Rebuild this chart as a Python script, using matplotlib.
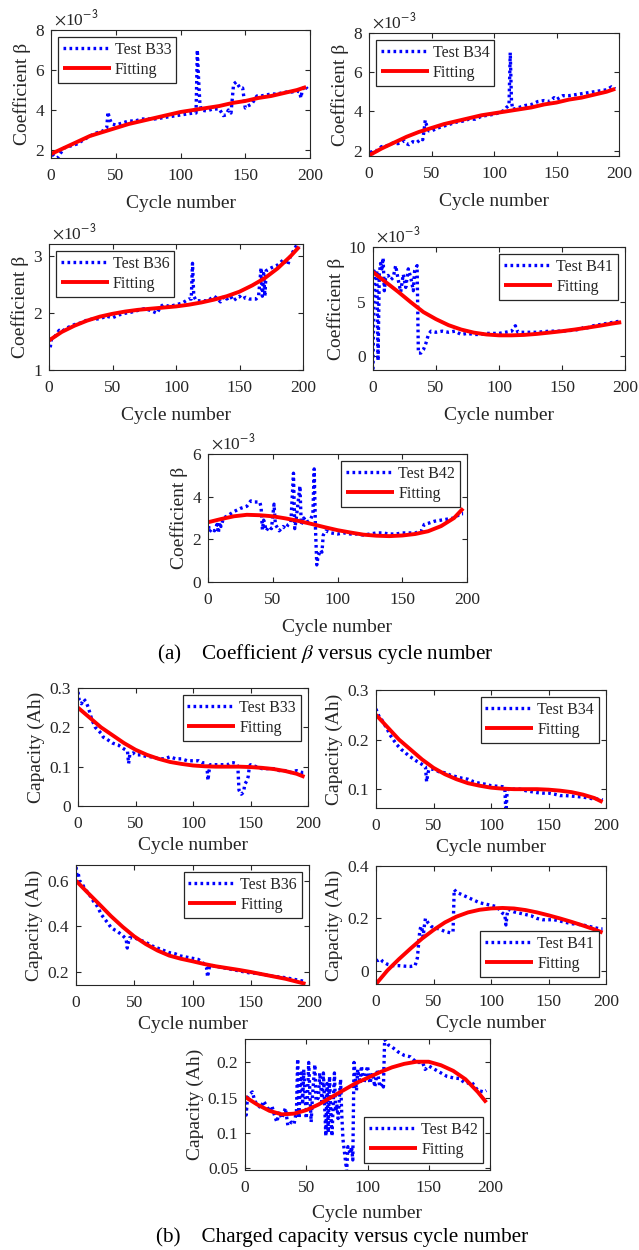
import matplotlib
matplotlib.use("Agg")
import matplotlib.pyplot as plt
from matplotlib.ticker import FuncFormatter

plt.rcParams['font.family'] = ['Liberation Serif', 'DejaVu Serif']
plt.rcParams['mathtext.fontset'] = 'stix'

# ---------------- data ----------------
fit_cycles = [0, 10, 20, 30, 40, 50, 60, 70, 80, 90, 100, 110, 120, 130, 140, 150, 160, 170, 180, 190, 197]

# Coefficient beta (values in units of 1e-3)
b33_beta = [(1,1.8),(3,1.65),(5,1.6),(7,1.8),(10,2.1),(15,2.2),(20,2.3),(25,2.5),(30,2.7),(35,2.85),(40,2.95),(43,3.1),(44,3.9),(45,3.6),(47,3.3),(50,3.25),(55,3.35),(60,3.45),(65,3.45),(70,3.55),(75,3.55),(80,3.55),(85,3.6),(90,3.65),(95,3.7),(100,3.75),(105,3.8),(110,3.85),(112,3.85),(113,7.0),(114,5.5),(115,4.3),(116,4.0),(120,3.95),(125,4.05),(130,4.05),(133,3.72),(135,3.75),(137,4.0),(139,3.85),(141,5.3),(143,5.4),(146,5.1),(148,5.1),(149,4.6),(150,4.1),(152,4.2),(155,4.3),(157,4.5),(159,4.7),(162,4.7),(166,4.75),(170,4.8),(174,4.8),(178,4.85),(182,4.9),(186,4.9),(190,4.95),(192,4.9),(193,4.6),(194,5.0),(196,5.2),(198,5.05)]
b33_beta_fit = [1.8,2.1,2.4,2.7,2.9,3.1,3.3,3.45,3.6,3.75,3.9,4.0,4.1,4.2,4.35,4.45,4.6,4.7,4.85,5.0,5.15]

b34_beta = [(1,2.0),(2,1.75),(4,2.0),(7,2.0),(10,2.2),(13,2.2),(16,2.3),(20,2.4),(23,2.35),(26,2.4),(28,2.5),(30,2.35),(32,2.3),(35,2.45),(38,2.4),(40,2.5),(42,2.6),(43,2.55),(44,3.0),(45,3.55),(46,3.3),(48,3.0),(50,3.0),(55,3.15),(60,3.25),(65,3.35),(70,3.45),(75,3.5),(80,3.6),(85,3.6),(90,3.75),(95,3.8),(100,3.85),(105,3.95),(108,4.05),(110,4.2),(112,4.3),(113,7.0),(114,4.5),(115,4.1),(120,4.2),(125,4.3),(130,4.35),(135,4.5),(140,4.55),(145,4.5),(148,4.7),(150,4.6),(155,4.8),(160,4.8),(165,4.85),(170,4.9),(175,4.95),(180,5.0),(185,5.05),(190,5.1),(194,5.25),(197,5.15)]
b34_beta_fit = [1.75,2.1,2.4,2.7,2.95,3.15,3.35,3.5,3.65,3.8,3.9,4.0,4.1,4.2,4.35,4.45,4.6,4.7,4.85,5.0,5.15]

b36_beta = [(1,1.4),(2,1.55),(5,1.6),(8,1.7),(10,1.68),(15,1.75),(20,1.8),(25,1.83),(30,1.88),(35,1.9),(40,1.9),(45,1.95),(50,1.92),(55,1.97),(60,2.0),(65,2.02),(70,2.05),(75,2.08),(80,2.05),(85,2.0),(88,2.12),(90,2.15),(95,2.12),(100,2.15),(105,2.18),(110,2.25),(112,2.25),(113,2.88),(114,2.3),(116,2.22),(120,2.22),(125,2.22),(130,2.3),(133,2.25),(135,2.2),(138,2.3),(140,2.25),(143,2.3),(145,2.22),(150,2.3),(152,2.25),(155,2.28),(158,2.25),(163,2.25),(165,2.3),(167,2.8),(168,2.3),(169,2.7),(170,2.3),(171,2.75),(175,2.8),(180,2.85),(185,2.95),(188,2.85),(190,3.0),(195,3.2),(197,3.15)]
b36_beta_fit = [1.52,1.67,1.78,1.87,1.94,1.99,2.03,2.06,2.08,2.1,2.12,2.15,2.19,2.24,2.3,2.38,2.49,2.62,2.79,3.0,3.17]

b41_beta = [(0,-1.2),(1,7.8),(2,7.5),(3,7.9),(4,-0.4),(5,7.5),(6,8.5),(7,8.0),(8,9.0),(9,6.0),(10,7.2),(12,7.4),(14,7.0),(16,7.2),(18,8.3),(20,7.0),(22,5.9),(24,7.5),(26,6.3),(28,8.0),(30,7.2),(32,6.0),(33,7.8),(35,8.3),(36,0.3),(38,0.3),(40,0.6),(42,1.2),(44,2.0),(46,2.3),(50,2.2),(55,2.3),(60,2.2),(65,2.3),(70,2.0),(75,2.1),(80,2.0),(85,2.0),(90,2.1),(95,2.1),(100,2.1),(105,2.2),(110,2.3),(113,2.8),(115,2.2),(120,2.2),(125,2.2),(130,2.2),(135,2.25),(140,2.3),(145,2.3),(150,2.3),(155,2.35),(160,2.4),(165,2.5),(168,2.7),(170,2.6),(175,2.8),(180,2.9),(185,3.0),(190,3.1),(195,3.2),(197,3.2)]
b41_beta_fit = [7.7,6.8,5.9,4.95,4.05,3.4,2.85,2.45,2.17,2.0,1.92,1.92,1.96,2.05,2.17,2.3,2.45,2.62,2.8,3.0,3.12]

b42_beta = [(0,2.9),(1,2.35),(3,2.5),(5,2.4),(7,2.7),(8,2.3),(9,2.8),(10,2.6),(12,3.0),(15,3.1),(20,3.3),(25,3.45),(30,3.55),(33,3.8),(36,3.75),(40,3.75),(41,3.5),(42,2.45),(43,2.9),(45,2.4),(47,2.6),(49,2.5),(51,3.65),(52,2.7),(55,2.4),(58,2.6),(60,2.5),(62,2.7),(64,2.8),(66,5.1),(67,2.5),(68,2.9),(71,4.5),(72,2.7),(74,3.0),(76,2.8),(79,2.9),(81,3.2),(82,5.3),(83,2.5),(84,0.8),(85,1.2),(87,1.5),(88,1.4),(89,2.2),(91,2.4),(95,2.3),(100,2.25),(105,2.3),(110,2.25),(115,2.25),(120,2.2),(125,2.25),(130,2.3),(135,2.3),(140,2.25),(145,2.25),(150,2.3),(155,2.3),(160,2.3),(165,2.4),(167,2.7),(170,2.75),(175,2.85),(180,2.9),(185,2.95),(190,3.0),(195,3.2),(197,3.2)]
b42_beta_fit = [2.8,2.95,3.08,3.15,3.13,3.08,2.98,2.86,2.72,2.57,2.43,2.32,2.22,2.17,2.15,2.18,2.25,2.38,2.62,3.0,3.45]

# Charged capacity (Ah)
b33_cap = [(0,0.29),(1,0.27),(2,0.265),(3,0.26),(5,0.272),(7,0.265),(9,0.25),(10,0.24),(12,0.22),(15,0.2),(20,0.185),(22,0.175),(25,0.17),(30,0.16),(35,0.155),(40,0.145),(43,0.14),(44,0.108),(45,0.13),(48,0.135),(50,0.13),(55,0.13),(60,0.125),(65,0.125),(70,0.12),(75,0.12),(80,0.125),(85,0.12),(90,0.12),(95,0.115),(100,0.115),(105,0.115),(108,0.11),(110,0.11),(112,0.105),(113,0.065),(114,0.09),(115,0.105),(120,0.105),(125,0.105),(130,0.105),(133,0.11),(135,0.11),(138,0.108),(139,0.1),(140,0.04),(142,0.03),(144,0.035),(145,0.055),(147,0.065),(148,0.075),(149,0.1),(150,0.105),(155,0.1),(160,0.095),(165,0.095),(170,0.095),(175,0.09),(180,0.09),(185,0.085),(190,0.09),(195,0.085),(197,0.085)]
b33_cap_fit = [0.25,0.225,0.2,0.18,0.16,0.143,0.13,0.12,0.112,0.107,0.103,0.101,0.1,0.1,0.1,0.099,0.097,0.094,0.089,0.082,0.074]

b34_cap = [(0,0.262),(1,0.255),(3,0.245),(5,0.24),(8,0.228),(10,0.22),(12,0.21),(15,0.2),(18,0.19),(20,0.185),(22,0.18),(25,0.175),(28,0.168),(30,0.165),(35,0.157),(40,0.15),(43,0.145),(44,0.115),(45,0.13),(46,0.14),(50,0.14),(55,0.135),(60,0.133),(65,0.128),(70,0.125),(75,0.122),(80,0.12),(85,0.115),(90,0.112),(95,0.11),(100,0.107),(105,0.106),(110,0.105),(112,0.103),(113,0.05),(114,0.095),(115,0.1),(120,0.1),(125,0.1),(130,0.097),(135,0.095),(140,0.093),(145,0.092),(150,0.092),(155,0.09),(160,0.087),(165,0.087),(170,0.086),(175,0.085),(180,0.084),(185,0.082),(190,0.08),(195,0.08),(197,0.078)]
b34_cap_fit = [0.25,0.225,0.2,0.18,0.16,0.143,0.13,0.12,0.112,0.107,0.103,0.101,0.1,0.1,0.1,0.099,0.097,0.094,0.089,0.082,0.074]

b36_cap = [(0,0.66),(1,0.62),(2,0.63),(3,0.6),(5,0.59),(8,0.56),(10,0.55),(12,0.535),(15,0.51),(18,0.49),(20,0.47),(22,0.45),(25,0.43),(28,0.41),(30,0.395),(33,0.385),(35,0.38),(40,0.36),(43,0.345),(44,0.305),(45,0.33),(46,0.35),(50,0.35),(55,0.34),(60,0.33),(65,0.315),(70,0.305),(75,0.295),(80,0.285),(85,0.28),(90,0.27),(95,0.265),(100,0.26),(105,0.255),(108,0.245),(110,0.235),(112,0.22),(113,0.178),(114,0.21),(115,0.23),(120,0.225),(125,0.22),(130,0.215),(135,0.21),(140,0.205),(145,0.2),(150,0.195),(155,0.195),(160,0.19),(165,0.185),(170,0.18),(175,0.178),(180,0.175),(185,0.17),(190,0.165),(195,0.16),(197,0.155)]
b36_cap_fit = [0.6,0.548,0.497,0.445,0.398,0.356,0.322,0.294,0.272,0.258,0.247,0.235,0.225,0.217,0.209,0.2,0.19,0.18,0.17,0.157,0.148]

b41_cap = [(0,0.04),(2,0.04),(4,0.045),(6,0.035),(8,0.03),(10,0.025),(15,0.02),(20,0.02),(25,0.018),(30,0.017),(34,0.02),(36,0.05),(37,0.1),(38,0.15),(39,0.17),(40,0.16),(41,0.13),(42,0.17),(43,0.2),(45,0.185),(48,0.17),(50,0.165),(55,0.16),(60,0.15),(65,0.145),(67,0.15),(68,0.31),(70,0.3),(75,0.29),(80,0.28),(85,0.27),(90,0.26),(95,0.255),(100,0.25),(105,0.245),(108,0.23),(110,0.22),(112,0.215),(113,0.175),(114,0.215),(115,0.235),(120,0.225),(125,0.22),(130,0.215),(135,0.21),(140,0.2),(145,0.195),(150,0.195),(155,0.195),(160,0.19),(165,0.185),(170,0.18),(175,0.178),(180,0.175),(185,0.17),(190,0.165),(195,0.16),(197,0.16)]
b41_cap_fit = [-0.05,0.002,0.045,0.085,0.123,0.156,0.185,0.207,0.223,0.233,0.238,0.24,0.238,0.232,0.223,0.212,0.2,0.187,0.173,0.158,0.146]

b42_cap = [(0,0.144),(1,0.125),(2,0.15),(4,0.155),(6,0.158),(8,0.145),(10,0.14),(13,0.135),(15,0.145),(17,0.14),(20,0.13),(22,0.138),(24,0.125),(26,0.115),(28,0.13),(30,0.12),(33,0.135),(35,0.11),(38,0.115),(40,0.112),(42,0.13),(43,0.205),(44,0.12),(45,0.17),(46,0.185),(47,0.14),(48,0.19),(50,0.12),(51,0.15),(52,0.2),(53,0.155),(54,0.115),(55,0.15),(57,0.197),(58,0.145),(60,0.15),(61,0.185),(63,0.14),(64,0.185),(66,0.095),(67,0.17),(68,0.1),(69,0.18),(70,0.13),(71,0.095),(73,0.185),(74,0.13),(75,0.14),(76,0.12),(78,0.176),(79,0.125),(80,0.09),(82,0.06),(83,0.045),(84,0.08),(86,0.07),(87,0.08),(88,0.061),(89,0.2),(91,0.16),(92,0.19),(94,0.17),(95,0.195),(97,0.17),(100,0.195),(102,0.17),(104,0.185),(106,0.165),(108,0.19),(110,0.165),(112,0.17),(113,0.165),(114,0.233),(117,0.225),(120,0.222),(125,0.215),(130,0.21),(135,0.208),(140,0.2),(145,0.2),(147,0.19),(150,0.195),(155,0.19),(160,0.185),(165,0.18),(170,0.178),(175,0.177),(180,0.17),(185,0.172),(188,0.165),(190,0.16),(195,0.158),(197,0.16)]
b42_cap_fit = [0.151,0.14,0.131,0.126,0.127,0.132,0.14,0.15,0.16,0.17,0.178,0.186,0.193,0.198,0.201,0.201,0.196,0.188,0.176,0.158,0.143]

x_ticks = [0, 50, 100, 150, 200]

# ---------------- figure ----------------
W, H = 639, 1250
fig = plt.figure(figsize=(W / 100, H / 100), dpi=100)

EDGE = '#262626'
TICK_FS = 12.5
LABEL_FS = 14
LEG_FS = 11.5

def px_axes(x0, y0, x1, y1):
    return fig.add_axes([x0 / W, 1 - y1 / H, (x1 - x0) / W, (y1 - y0) / H])

def fmt(v, pos):
    return '%g' % round(v, 6)

def panel(rect, series, fit, name, ylim, yticks, ylabel, legloc, sci=False, xlpad=3):
    ax = px_axes(*rect)
    xs = [p[0] for p in series]
    ys = [p[1] for p in series]
    ax.plot(xs, ys, color=(0, 0, 1), lw=2.4, linestyle=(0, (0.8, 1.0)),
            label='Test ' + name, dash_capstyle='butt')
    ax.plot(fit_cycles, fit, color=(1, 0, 0), lw=2.8, label='Fitting',
            solid_capstyle='butt')
    ax.set_xlim(0, 200)
    ax.set_ylim(*ylim)
    ax.set_xticks(x_ticks)
    ax.set_yticks(yticks)
    ax.yaxis.set_major_formatter(FuncFormatter(fmt))
    ax.tick_params(direction='in', top=True, right=True, length=3.5,
                   width=0.8, colors=EDGE, labelsize=TICK_FS)
    ax.tick_params(axis='x', pad=7)
    ax.tick_params(axis='y', pad=5)
    for s in ax.spines.values():
        s.set_color(EDGE)
        s.set_linewidth(0.8)
    ax.set_xlabel('Cycle number', fontsize=LABEL_FS, color=EDGE, labelpad=xlpad)
    ax.set_ylabel(ylabel, fontsize=LABEL_FS, color=EDGE, labelpad=3)
    leg = ax.legend(loc=legloc, fontsize=LEG_FS, handlelength=3.0,
                    fancybox=False, framealpha=1, edgecolor=EDGE,
                    borderpad=0.3, labelspacing=0.25, handletextpad=0.25,
                    borderaxespad=0.45)
    leg.get_frame().set_linewidth(0.9)
    for t in leg.get_texts():
        t.set_color(EDGE)
    if sci:
        ax.text(0.01, 1.01, r'$\times$10$^{\mathsf{-3}}$', transform=ax.transAxes,
                fontsize=TICK_FS, color=EDGE, ha='left', va='bottom')
    return ax

panel((51, 30, 310, 158), b33_beta, b33_beta_fit, 'B33', (1.6, 8), [2, 4, 6, 8],
      'Coefficient β', 'upper left', sci=True, xlpad=8)
panel((369, 33, 619, 156), b34_beta, b34_beta_fit, 'B34', (1.72, 8), [2, 4, 6, 8],
      'Coefficient β', 'upper left', sci=True, xlpad=8)
panel((49, 244, 303, 370), b36_beta, b36_beta_fit, 'B36', (1.0, 3.22), [1, 2, 3],
      'Coefficient β', 'upper left', sci=True, xlpad=8)
panel((373, 247, 625, 370), b41_beta, b41_beta_fit, 'B41', (-1.25, 10), [0, 5, 10],
      'Coefficient β', 'upper right', sci=True, xlpad=8)
panel((208, 454, 467, 582), b42_beta, b42_beta_fit, 'B42', (0, 6), [0, 2, 4, 6],
      'Coefficient β', 'upper right', sci=True, xlpad=8)

panel((78, 688, 308, 806), b33_cap, b33_cap_fit, 'B33', (0, 0.3), [0, 0.1, 0.2, 0.3],
      'Capacity (Ah)', 'upper right', xlpad=4)
panel((376, 690, 606, 808), b34_cap, b34_cap_fit, 'B34', (0.062, 0.3), [0.1, 0.2, 0.3],
      'Capacity (Ah)', 'upper right', xlpad=4)
panel((76, 865, 309, 985), b36_cap, b36_cap_fit, 'B36', (0.143, 0.669), [0.2, 0.4, 0.6],
      'Capacity (Ah)', 'upper right', xlpad=4)
panel((376, 866, 606, 984), b41_cap, b41_cap_fit, 'B41', (-0.05, 0.4), [0, 0.2, 0.4],
      'Capacity (Ah)', 'lower right', xlpad=4)
panel((245, 1039, 490, 1170), b42_cap, b42_cap_fit, 'B42', (0.0467, 0.2334),
      [0.05, 0.1, 0.15, 0.2], 'Capacity (Ah)', 'lower right', xlpad=7)

fig.text(325 / W, 1 - 654 / H, r'(a)    Coefficient $\beta$ versus cycle number',
         ha='center', va='center', fontsize=15.2, color='black')
fig.text(342 / W, 1 - 1237 / H, '(b)    Charged capacity versus cycle number',
         ha='center', va='center', fontsize=15.2, color='black')

fig.savefig('out.png', dpi=100)
